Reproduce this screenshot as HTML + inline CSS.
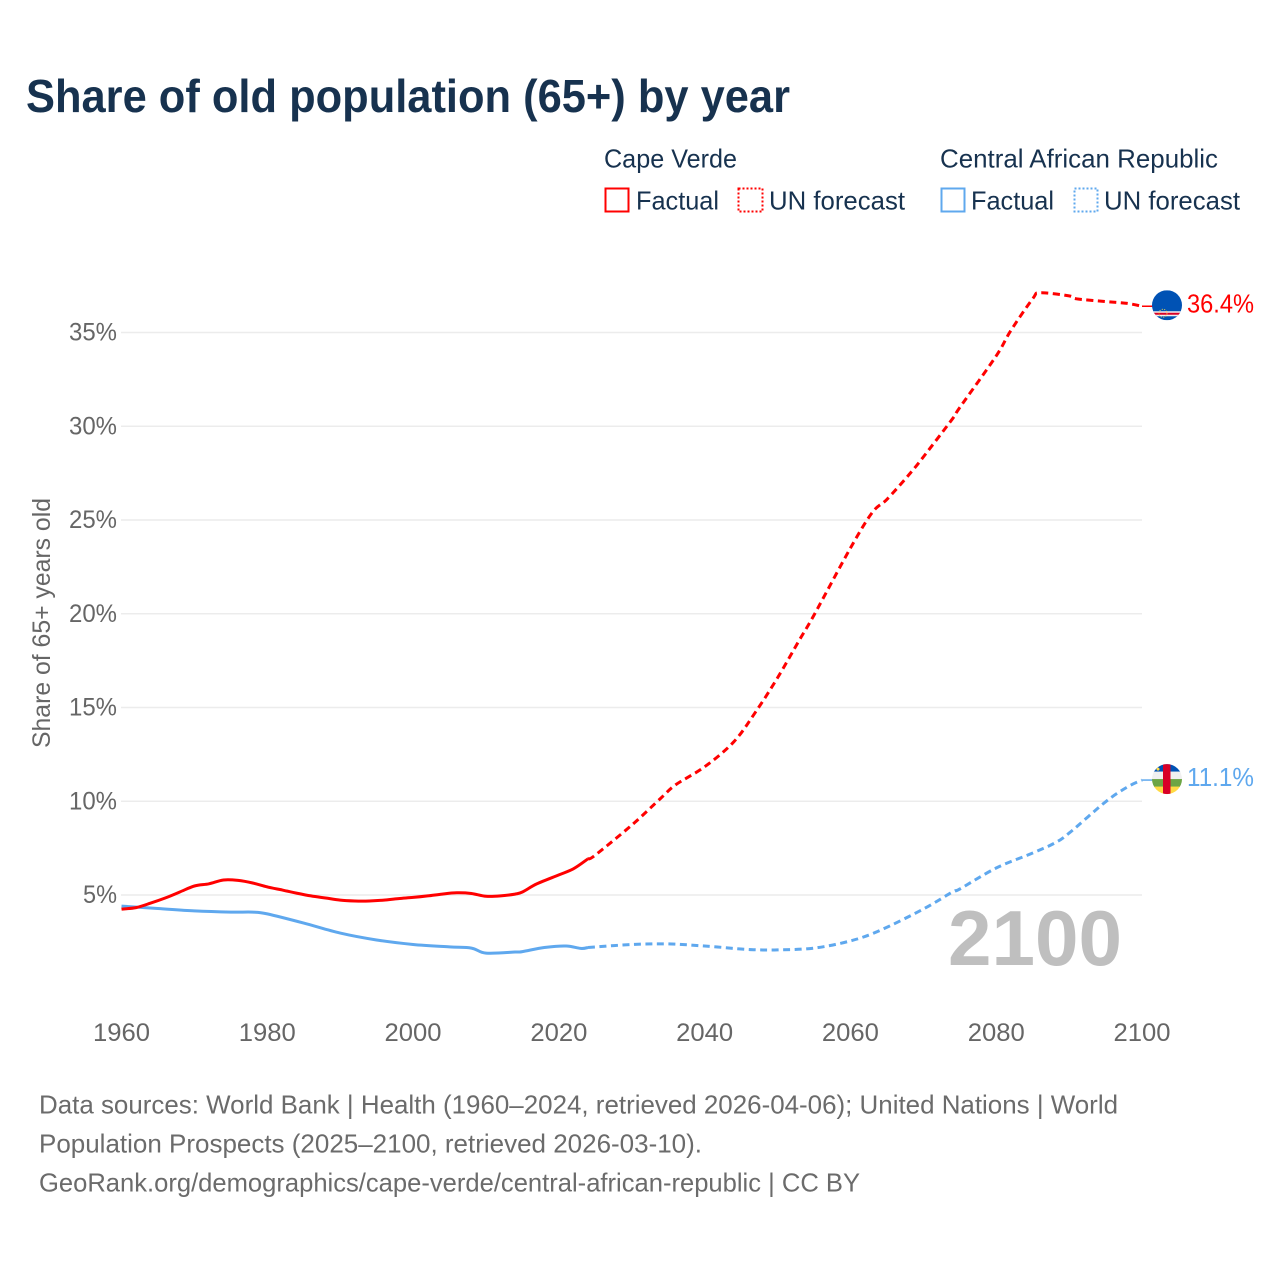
<!DOCTYPE html>
<html lang="en">
<head>
<meta charset="utf-8">
<title>Share of old population (65+) by year</title>
<style>
html,body{margin:0;padding:0;background:#fff;}
svg{display:block;font-family:"Liberation Sans",sans-serif;}
</style>
</head>
<body>
<svg id="chart" width="1280" height="1280" viewBox="0 0 1280 1280" xmlns="http://www.w3.org/2000/svg">
  <rect x="0" y="0" width="1280" height="1280" fill="#ffffff"/>
  <text x="26" y="112" font-size="46" font-weight="700" fill="#17324f" textLength="764" lengthAdjust="spacingAndGlyphs">Share of old population (65+) by year</text>

  <g font-size="26" fill="#17324f">
    <text x="604" y="167.5" textLength="133" lengthAdjust="spacingAndGlyphs">Cape Verde</text>
    <text x="940" y="167.5" textLength="278" lengthAdjust="spacingAndGlyphs">Central African Republic</text>
    <rect x="605.5" y="188.5" width="23" height="23" fill="none" stroke="#ff0000" stroke-width="2"/>
    <text x="636" y="209.5" textLength="83" lengthAdjust="spacingAndGlyphs">Factual</text>
    <rect x="738.5" y="188.5" width="24" height="23" fill="none" stroke="#ff0000" stroke-width="2" stroke-dasharray="2 2"/>
    <text x="769" y="209.5" textLength="136" lengthAdjust="spacingAndGlyphs">UN forecast</text>
    <rect x="941.5" y="188.5" width="23" height="23" fill="none" stroke="#5fa8ee" stroke-width="2"/>
    <text x="971" y="209.5" textLength="83" lengthAdjust="spacingAndGlyphs">Factual</text>
    <rect x="1074.5" y="188.5" width="23" height="23" fill="none" stroke="#5fa8ee" stroke-width="2" stroke-dasharray="2 2"/>
    <text x="1104" y="209.5" textLength="136" lengthAdjust="spacingAndGlyphs">UN forecast</text>
  </g>

  <g id="grid"></g>
  <g id="yticks" font-size="25" fill="#666666" text-anchor="end"></g>
  <g id="xticks" font-size="25" fill="#666666" text-anchor="middle"></g>
  <text transform="translate(50 623) rotate(-90)" text-anchor="middle" font-size="25" fill="#666666" textLength="250" lengthAdjust="spacingAndGlyphs">Share of 65+ years old</text>
  <text id="year-watermark" x="948" y="965" font-size="78" font-weight="700" fill="#bfbfbf" textLength="174" lengthAdjust="spacingAndGlyphs"></text>
  <g id="series"></g>
  <g id="flags"></g>

  <g font-size="26" fill="#6b6b6b">
    <text x="39" y="1113.5" textLength="1079" lengthAdjust="spacingAndGlyphs">Data sources: World Bank | Health (1960–2024, retrieved 2026-04-06); United Nations | World</text>
    <text x="39" y="1152.5" textLength="663" lengthAdjust="spacingAndGlyphs">Population Prospects (2025–2100, retrieved 2026-03-10).</text>
    <text x="39" y="1191.5" textLength="821" lengthAdjust="spacingAndGlyphs">GeoRank.org/demographics/cape-verde/central-african-republic | CC BY</text>
  </g>
</svg>
<script>
var yTickValues = [5, 10, 15, 20, 25, 30, 35];
var xTickValues = [1960, 1980, 2000, 2020, 2040, 2060, 2080, 2100];
var currentYear = [2100];

var cvFactualYears = [1960,1962,1964,1966,1968,1970,1972,1974,1976,1978,1980,1982,1984,1986,1988,1990,1992,1994,1996,1998,2000,2002,2004,2006,2008,2010,2012,2014,2015,2017,2020,2022,2024];
var cvFactualValues = [4.25,4.33,4.57,4.84,5.16,5.48,5.6,5.8,5.78,5.64,5.43,5.27,5.1,4.95,4.84,4.73,4.68,4.68,4.73,4.81,4.87,4.95,5.05,5.12,5.08,4.93,4.95,5.05,5.16,5.6,6.07,6.4,6.93];
var cvForecastYears = [2024,2025,2030,2034,2036,2040,2044,2047,2050,2053,2055,2060,2063,2065,2068,2070,2074,2075,2080,2082,2085,2086,2090,2091,2095,2098,2100];
var cvForecastValues = [6.93,7.13,8.73,10.17,10.87,11.84,13.17,14.77,16.58,18.6,19.93,23.5,25.4,26.1,27.4,28.36,30.4,31,33.75,35.1,36.8,37.12,36.95,36.8,36.65,36.55,36.4];

var carFactualYears = [1960,1965,1970,1975,1978,1980,1985,1990,1995,2000,2005,2008,2010,2014,2015,2018,2021,2023,2024];
var carFactualValues = [4.41,4.28,4.15,4.09,4.09,3.99,3.5,2.97,2.6,2.36,2.23,2.17,1.9,1.96,1.98,2.2,2.28,2.15,2.2];
var carForecastYears = [2024,2030,2035,2040,2045,2047,2050,2055,2060,2064,2070,2074,2075,2080,2085,2088,2090,2095,2098,2100];
var carForecastValues = [2.2,2.36,2.39,2.28,2.12,2.08,2.07,2.17,2.55,3.1,4.25,5.16,5.32,6.44,7.24,7.77,8.3,9.97,10.76,11.13];

var NS = 'http://www.w3.org/2000/svg';
function xScale(year) { return 121.5 + (year - 1960) * (1142 - 121.5) / 140; }
function yScale(value) { return 988.75 - value * 18.75; }
function make(tag, attrs, parent) {
  var el = document.createElementNS(NS, tag);
  for (var k in attrs) { el.setAttribute(k, attrs[k]); }
  parent.appendChild(el);
  return el;
}
function smoothPath(years, values) {
  var pts = years.map(function (y, i) { return [xScale(y), yScale(values[i])]; });
  var d = 'M' + pts[0][0].toFixed(1) + ' ' + pts[0][1].toFixed(1);
  for (var i = 0; i < pts.length - 1; i++) {
    var p0 = pts[Math.max(i - 1, 0)], p1 = pts[i], p2 = pts[i + 1], p3 = pts[Math.min(i + 2, pts.length - 1)];
    var c1x = p1[0] + (p2[0] - p0[0]) / 6, c1y = p1[1] + (p2[1] - p0[1]) / 6;
    var c2x = p2[0] - (p3[0] - p1[0]) / 6, c2y = p2[1] - (p3[1] - p1[1]) / 6;
    d += 'C' + c1x.toFixed(1) + ' ' + c1y.toFixed(1) + ' ' + c2x.toFixed(1) + ' ' + c2y.toFixed(1) + ' ' + p2[0].toFixed(1) + ' ' + p2[1].toFixed(1);
  }
  return d;
}

var grid = document.getElementById('grid');
var yticks = document.getElementById('yticks');
yTickValues.forEach(function (v) {
  var line = make('line', { x1: 121, x2: 1142, y1: yScale(v), y2: yScale(v), stroke: '#ececec', 'stroke-width': 1.5 }, grid);
  
  
  var label = v + '%';
  var t = make('text', { x: 117, y: yScale(v) + 8, textLength: v < 10 ? 34 : 48, lengthAdjust: 'spacingAndGlyphs' }, yticks);
  
  
  t.textContent = label;
});

var xticks = document.getElementById('xticks');
xTickValues.forEach(function (v) {
  var t = make('text', { x: xScale(v), y: 1041, textLength: 57, lengthAdjust: 'spacingAndGlyphs' }, xticks);
  
  
  t.textContent = String(v);
});

document.getElementById('year-watermark').textContent = String(currentYear[0]);

var series = document.getElementById('series');
function lineFor(years, values, color, dashed, name) {
  var attrs = { d: smoothPath(years, values), fill: 'none', stroke: color, 'stroke-width': 3, 'stroke-linejoin': 'round' };
  if (dashed) { attrs['stroke-dasharray'] = '7 4.5'; }
  var el = make('path', attrs, series);
  
  
}
var RED = '#ff0000', BLUE = '#5fa8ee';
lineFor(carFactualYears, carFactualValues, BLUE, false, 'line-car-factual');
lineFor(carForecastYears, carForecastValues, BLUE, true, 'line-car-forecast');
lineFor(cvFactualYears, cvFactualValues, RED, false, 'line-cape-verde-factual');
lineFor(cvForecastYears, cvForecastValues, RED, true, 'line-cape-verde-forecast');

var flags = document.getElementById('flags');
var defs = make('defs', {}, flags);
var clip = make('clipPath', { id: 'flag-clip' }, defs);
make('circle', { cx: 0, cy: 0, r: 15 }, clip);

function endMarker(lastValue, color, name, drawFlag) {
  var cy = yScale(lastValue);
  var leader = make('line', { x1: 1142, x2: 1153, y1: cy, y2: cy, stroke: color, 'stroke-width': 1.5 }, flags);
  
  
  var g = make('g', { transform: 'translate(1167 ' + (cy - 1) + ')', 'clip-path': 'url(#flag-clip)' }, flags);
  
  
  drawFlag(g);
  var t = make('text', { x: 1187, y: cy + 6, 'font-size': 25.5, fill: color, textLength: 67, lengthAdjust: 'spacingAndGlyphs' }, flags);
  
  
  t.textContent = lastValue.toFixed(1) + '%';
}
endMarker(cvForecastValues[cvForecastValues.length - 1], RED, 'cape-verde', function (g) {
  make('rect', { x: -15, y: -15, width: 30, height: 30, fill: '#0052b4' }, g);
  make('rect', { x: -15, y: 6, width: 30, height: 5, fill: '#f0f0f0' }, g);
  make('rect', { x: -15, y: 7.5, width: 30, height: 2, fill: '#d80027' }, g);
  make('circle', { cx: -4, cy: 8, r: 4, fill: 'none', stroke: '#ffda44', 'stroke-width': 1, 'stroke-dasharray': '1 1.5' }, g);
});
endMarker(carForecastValues[carForecastValues.length - 1], BLUE, 'central-african-republic', function (g) {
  make('rect', { x: -15, y: -15, width: 30, height: 8, fill: '#0052b4' }, g);
  make('rect', { x: -15, y: -7.5, width: 30, height: 8, fill: '#f0f0f0' }, g);
  make('rect', { x: -15, y: 0, width: 30, height: 8, fill: '#6da544' }, g);
  make('rect', { x: -15, y: 7.5, width: 30, height: 8, fill: '#ffda44' }, g);
  make('rect', { x: -4, y: -15, width: 7.5, height: 30, fill: '#d80027' }, g);
  make('circle', { cx: -9, cy: -10, r: 1.5, fill: '#ffda44' }, g);
});
</script>
</body>
</html>
